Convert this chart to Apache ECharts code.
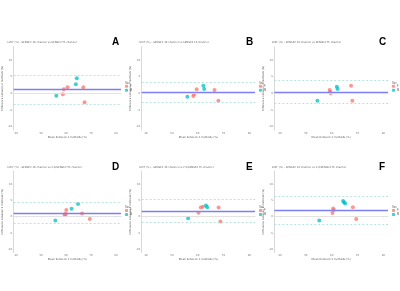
<!DOCTYPE html>
<html><head><meta charset="utf-8">
<script src="https://cdn.jsdelivr.net/npm/echarts@6/dist/echarts.min.js"></script>
<style>html,body{margin:0;padding:0;background:#fff}#c{width:400px;height:291px}</style>
</head><body><div id="c"></div>
<script>
// ---------- data ----------
const titles = [
  'LVEF (%) - SENSE2 16 channel vs SENSE2 TC channel',
  'LVEF (%) - SENSE2 16 channel vs SENSE4 16 channel',
  'LVEF (%) - SENSE2 16 channel vs SENSE4 TC channel',
  'LVEF (%) - SENSE2 16 channel vs 2.0/SENSE2 TC channel',
  'LVEF (%) - SENSE2 16 channel vs 2.5/SENSE2 TC channel',
  'LVEF (%) - SENSE2 16 channel vs 2.0/SENSE4 TC channel'
];
const letters = ['A','B','C','D','E','F'];
const groups = ['F','M'];
const legendTitle = 'Sex';
const xTicks = [40,50,60,70,80];
const yTicks = [-10,-5,0,5,10];
const xName = 'Mean between 2 methods (%)';
const yName = 'Difference between 2 methods (%)';

const femaleA = [[58.7,-0.3],[59.1,1.2],[60.6,1.8],[66.9,1.8],[67.4,-2.7]];
const maleA   = [[56.1,-0.7],[63.9,2.7],[64.3,4.5]];
const femaleB = [[59.6,1.2],[58.6,-0.3],[58.3,-0.8],[66.5,1.0],[68.0,-2.2]];
const maleB   = [[56.0,-1.0],[62.2,2.3],[62.5,1.3]];
const femaleC = [[59.2,1.0],[59.4,0.5],[59.6,0.0],[67.5,2.3],[68.0,-2.2]];
const maleC   = [[62.0,2.0],[62.3,1.3],[54.5,-2.2]];
const femaleD = [[60.1,2.0],[59.6,0.7],[59.4,0.5],[59.9,0.8],[66.4,1.0],[69.5,-0.7]];
const maleD   = [[62.2,2.4],[64.8,3.9],[55.7,-1.2]];
const femaleE = [[60.3,1.2],[61.2,2.8],[62.0,3.0],[68.1,2.8],[68.8,-1.5]];
const maleE   = [[63.2,3.4],[63.7,2.9],[56.3,-0.5]];
const femaleF = [[60.6,2.5],[60.8,2.0],[60.3,1.1],[68.2,2.9],[69.5,-0.7]];
const maleF   = [[64.4,4.8],[64.8,4.4],[65.2,4.0],[55.2,-1.2]];

const meanDiff = [1.2, 0.3, 0.3, 1.0, 1.7, 2.0];
const upperLoA = [5.4, 3.3, 3.8, 4.4, 5.4, 6.1];
const lowerLoA = [-3.3, -2.7, -3.1, -2.0, -1.7, -2.3];

const females = [femaleA,femaleB,femaleC,femaleD,femaleE,femaleF];
const males = [maleA,maleB,maleC,maleD,maleE,maleF];

// ---------- layout ----------
const colLeft = [10, 141.7, 274.3];
const colWidth = [111, 113.3, 113.7];
const colXMin = [39, 38.3, 37.8];
const colXMax = [82, 82.2, 81.8];
const rowTop = [46.7, 170.9];
const rowHeight = [83.3, 81.7];
const yMin = -11, yMax = 14;
const colors = ['#F8766D', '#00BFC4'];
const tfs = 2.6;

const grid=[], xAxis=[], yAxis=[], series=[], legend=[], graphic=[];
for (let i=0;i<6;i++){
  const c=i%3, r=Math.floor(i/3);
  grid.push({left:colLeft[c], top:rowTop[r], width:colWidth[c], height:rowHeight[r]});
  xAxis.push({gridIndex:i, type:'value', min:colXMin[c], max:colXMax[c],
    name:xName, nameLocation:'middle', nameGap:4.5,
    nameTextStyle:{fontSize:tfs, color:'#555', fontFamily:'DejaVu Sans'},
    axisLine:{show:true, lineStyle:{color:'#cfcfcf', width:0.8}},
    axisTick:{show:true, length:1, customValues:xTicks, lineStyle:{color:'#cfcfcf', width:0.5}},
    axisLabel:{customValues:xTicks, fontSize:tfs, color:'#777', margin:1.5, fontFamily:'DejaVu Sans'},
    splitLine:{show:false}});
  yAxis.push({gridIndex:i, type:'value', min:yMin, max:yMax,
    name:yName, nameLocation:'middle', nameGap:6.5,
    nameTextStyle:{fontSize:tfs, color:'#555', fontFamily:'DejaVu Sans'},
    axisLine:{show:true, lineStyle:{color:'#cfcfcf', width:0.8}},
    axisTick:{show:true, length:1, customValues:yTicks, lineStyle:{color:'#cfcfcf', width:0.5}},
    axisLabel:{customValues:yTicks, fontSize:tfs, color:'#777', margin:1.5, fontFamily:'DejaVu Sans'},
    splitLine:{show:false}});
  // reference lines
  series.push({type:'line', xAxisIndex:i, yAxisIndex:i, data:[], silent:true,
    markLine:{symbol:'none', silent:true, label:{show:false},
      data:[
        {yAxis:0, lineStyle:{color:'#e6e6e6', width:0.8, type:'solid'}},
        {yAxis:upperLoA[i], lineStyle:{color:'#a6dcd6', width:0.8, type:[2,2]}},
        {yAxis:lowerLoA[i], lineStyle:{color:'#a6dcd6', width:0.8, type:[2,2]}}
      ]}});
  [females[i], males[i]].forEach((d,g)=>{
    series.push({type:'scatter', name:groups[g], xAxisIndex:i, yAxisIndex:i, data:d,
      symbolSize:4, itemStyle:{color:colors[g], opacity:0.75}, z:3});
  });
  series.push({type:'line', xAxisIndex:i, yAxisIndex:i, data:[], silent:true, z:4,
    markLine:{symbol:'none', silent:true, label:{show:false}, z:4,
      data:[{yAxis:meanDiff[i], lineStyle:{color:'#7f7ff5', width:1.3, type:'solid'}}]}});
  const lx = colLeft[c]+colWidth[c]+4;
  const ly = rowTop[r]+35;
  legend.push({data:groups, left:lx, top:ly+3, orient:'vertical', itemWidth:3, itemHeight:3,
    itemGap:1, icon:'roundRect', selectedMode:false,
    textStyle:{fontSize:tfs, color:'#555', padding:[0,0,0,-3]}, padding:0});
  graphic.push({type:'text', left:lx, top:ly, style:{text:legendTitle, fontSize:tfs, fill:'#555'}});
  graphic.push({type:'text', left:colLeft[c]-2.5, top:rowTop[r]-5.5,
    style:{text:titles[i], fontSize:tfs, fill:'#666', fontFamily:'DejaVu Sans'}});
  graphic.push({type:'text', left:colLeft[c]+colWidth[c]-9, top:rowTop[r]-9,
    style:{text:letters[i], fontSize:10, fontWeight:'bold', fill:'#000', fontFamily:'Liberation Sans'}});
}

const chart = echarts.init(document.getElementById('c'), null, {renderer:'canvas'});
chart.setOption({backgroundColor:'#fff', animation:false, grid, xAxis, yAxis, series, legend, graphic});
</script></body></html>
